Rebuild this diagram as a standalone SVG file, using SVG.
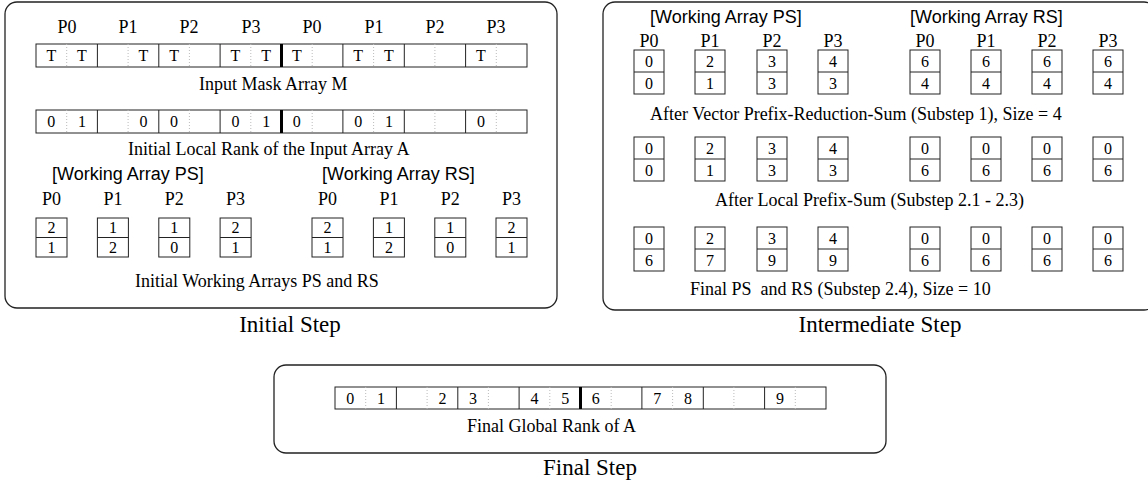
<svg xmlns="http://www.w3.org/2000/svg" width="1148" height="485" viewBox="0 0 1148 485">
<style>
.panel{fill:none;stroke:#222;stroke-width:1.3}
.cell{fill:#fff;stroke:#222;stroke-width:1}
.ln{stroke:#222;stroke-width:1}
.thick{stroke:#000;stroke-width:3}
.dot{stroke:#bbb;stroke-width:1;stroke-dasharray:1 2}
.lbl{font-family:"Liberation Serif",serif;font-size:18px;fill:#000}
.pl{font-family:"Liberation Serif",serif;font-size:18px;fill:#000;text-anchor:middle}
.val{font-family:"Liberation Serif",serif;font-size:16px;fill:#000;text-anchor:middle}
.sans{font-family:"Liberation Sans",sans-serif;font-size:18px;fill:#000}
.cap{font-family:"Liberation Serif",serif;font-size:23px;fill:#000}
</style>
<rect width="1148" height="485" fill="#fff"/>
<g id="connectors"/>

<g id="initial-step">
<rect class="panel" x="5" y="2" width="552" height="306" rx="12"/>
<g id="headers" class="pl">
<text x="67" y="33">P0</text><text x="128" y="33">P1</text><text x="189" y="33">P2</text><text x="251" y="33">P3</text>
<text x="312" y="33">P0</text><text x="374" y="33">P1</text><text x="435" y="33">P2</text><text x="496" y="33">P3</text>
</g>
<g id="mask-array">
<rect class="cell" x="36" y="44" width="491" height="23"/>
<path class="ln" d="M97.4 44V67M158.8 44V67M220.1 44V67M342.9 44V67M404.3 44V67M465.6 44V67"/>
<path class="dot" d="M66.7 44V67M128.1 44V67M189.4 44V67M250.8 44V67M312.2 44V67M373.6 44V67M434.9 44V67M496.3 44V67"/>
<line class="thick" x1="281.5" y1="44" x2="281.5" y2="67"/>
<g class="val">
<text x="51.3" y="61">T</text><text x="82" y="61">T</text><text x="143.4" y="61">T</text><text x="174.1" y="61">T</text>
<text x="235.5" y="61">T</text><text x="266.2" y="61">T</text><text x="296.8" y="61">T</text><text x="358.2" y="61">T</text>
<text x="388.9" y="61">T</text><text x="481" y="61">T</text>
</g>
<text class="lbl" x="199" y="90">Input Mask Array M</text>
</g>
<g id="local-rank-array">
<rect class="cell" x="36" y="110" width="491" height="23"/>
<path class="ln" d="M97.4 110V133M158.8 110V133M220.1 110V133M342.9 110V133M404.3 110V133M465.6 110V133"/>
<path class="dot" d="M66.7 110V133M128.1 110V133M189.4 110V133M250.8 110V133M312.2 110V133M373.6 110V133M434.9 110V133M496.3 110V133"/>
<line class="thick" x1="281.5" y1="110" x2="281.5" y2="133"/>
<g class="val">
<text x="51.3" y="127">0</text><text x="82" y="127">1</text><text x="143.4" y="127">0</text><text x="174.1" y="127">0</text>
<text x="235.5" y="127">0</text><text x="266.2" y="127">1</text><text x="296.8" y="127">0</text><text x="358.2" y="127">0</text>
<text x="388.9" y="127">1</text><text x="481" y="127">0</text>
</g>
<text class="lbl" x="128" y="155">Initial Local Rank of the Input Array A</text>
</g>
<g id="initial-ps">
<text class="sans" x="52" y="180">[Working Array PS]</text>
<g class="pl"><text x="51.5" y="205">P0</text><text x="112.9" y="205">P1</text><text x="174.3" y="205">P2</text><text x="235.6" y="205">P3</text></g>
<rect class="cell" x="36" y="218" width="31" height="39"/><rect class="cell" x="97.4" y="218" width="31" height="39"/>
<rect class="cell" x="158.8" y="218" width="31" height="39"/><rect class="cell" x="220.1" y="218" width="31" height="39"/>
<path class="ln" d="M36 237.5H67M97.4 237.5H128.4M158.8 237.5H189.8M220.1 237.5H251.1"/>
<g class="val">
<text x="51.5" y="233">2</text><text x="51.5" y="253">1</text>
<text x="112.9" y="233">1</text><text x="112.9" y="253">2</text>
<text x="174.3" y="233">1</text><text x="174.3" y="253">0</text>
<text x="235.6" y="233">2</text><text x="235.6" y="253">1</text>
</g>
</g>
<g id="initial-rs">
<text class="sans" x="322" y="180">[Working Array RS]</text>
<g class="pl"><text x="327.5" y="205">P0</text><text x="388.9" y="205">P1</text><text x="450.3" y="205">P2</text><text x="511.5" y="205">P3</text></g>
<rect class="cell" x="312" y="218" width="31" height="39"/><rect class="cell" x="373.4" y="218" width="31" height="39"/>
<rect class="cell" x="434.8" y="218" width="31" height="39"/><rect class="cell" x="496" y="218" width="31" height="39"/>
<path class="ln" d="M312 237.5H343M373.4 237.5H404.4M434.8 237.5H465.8M496 237.5H527"/>
<g class="val">
<text x="327.5" y="233">2</text><text x="327.5" y="253">1</text>
<text x="388.9" y="233">1</text><text x="388.9" y="253">2</text>
<text x="450.3" y="233">1</text><text x="450.3" y="253">0</text>
<text x="511.5" y="233">2</text><text x="511.5" y="253">1</text>
</g>
</g>
<text class="lbl" x="135" y="287">Initial Working Arrays PS and RS</text>
<text class="cap" x="290" y="332" text-anchor="middle">Initial Step</text>
</g>

<g id="intermediate-step">
<rect class="panel" x="603" y="2" width="553" height="308" rx="12"/>
<text class="sans" x="650" y="23">[Working Array PS]</text>
<text class="sans" x="910" y="23">[Working Array RS]</text>
<g class="pl">
<text x="649" y="47">P0</text><text x="710" y="47">P1</text><text x="772" y="47">P2</text><text x="833" y="47">P3</text>
<text x="925" y="47">P0</text><text x="986" y="47">P1</text><text x="1047" y="47">P2</text><text x="1108" y="47">P3</text>
</g>
<g id="substep1">
<rect class="cell" x="634" y="50" width="30" height="44"/><rect class="cell" x="695" y="50" width="30" height="44"/>
<rect class="cell" x="757" y="50" width="30" height="44"/><rect class="cell" x="818" y="50" width="30" height="44"/>
<rect class="cell" x="910" y="50" width="30" height="44"/><rect class="cell" x="971" y="50" width="30" height="44"/>
<rect class="cell" x="1032" y="50" width="30" height="44"/><rect class="cell" x="1093" y="50" width="30" height="44"/>
<path class="ln" d="M634 72H664M695 72H725M757 72H787M818 72H848M910 72H940M971 72H1001M1032 72H1062M1093 72H1123"/>
<g class="val">
<text x="649" y="67">0</text><text x="649" y="89">0</text>
<text x="710" y="67">2</text><text x="710" y="89">1</text>
<text x="772" y="67">3</text><text x="772" y="89">3</text>
<text x="833" y="67">4</text><text x="833" y="89">3</text>
<text x="925" y="67">6</text><text x="925" y="89">4</text>
<text x="986" y="67">6</text><text x="986" y="89">4</text>
<text x="1047" y="67">6</text><text x="1047" y="89">4</text>
<text x="1108" y="67">6</text><text x="1108" y="89">4</text>
</g>
<text class="lbl" x="650" y="120">After Vector Prefix-Reduction-Sum (Substep 1), Size = 4</text>
</g>
<g id="substep2">
<rect class="cell" x="634" y="137" width="30" height="44"/><rect class="cell" x="695" y="137" width="30" height="44"/>
<rect class="cell" x="757" y="137" width="30" height="44"/><rect class="cell" x="818" y="137" width="30" height="44"/>
<rect class="cell" x="910" y="137" width="30" height="44"/><rect class="cell" x="971" y="137" width="30" height="44"/>
<rect class="cell" x="1032" y="137" width="30" height="44"/><rect class="cell" x="1093" y="137" width="30" height="44"/>
<path class="ln" d="M634 159H664M695 159H725M757 159H787M818 159H848M910 159H940M971 159H1001M1032 159H1062M1093 159H1123"/>
<g class="val">
<text x="649" y="154">0</text><text x="649" y="176">0</text>
<text x="710" y="154">2</text><text x="710" y="176">1</text>
<text x="772" y="154">3</text><text x="772" y="176">3</text>
<text x="833" y="154">4</text><text x="833" y="176">3</text>
<text x="925" y="154">0</text><text x="925" y="176">6</text>
<text x="986" y="154">0</text><text x="986" y="176">6</text>
<text x="1047" y="154">0</text><text x="1047" y="176">6</text>
<text x="1108" y="154">0</text><text x="1108" y="176">6</text>
</g>
<text class="lbl" x="715" y="206">After Local Prefix-Sum (Substep 2.1 - 2.3)</text>
</g>
<g id="substep-final">
<rect class="cell" x="634" y="227" width="30" height="44"/><rect class="cell" x="695" y="227" width="30" height="44"/>
<rect class="cell" x="757" y="227" width="30" height="44"/><rect class="cell" x="818" y="227" width="30" height="44"/>
<rect class="cell" x="910" y="227" width="30" height="44"/><rect class="cell" x="971" y="227" width="30" height="44"/>
<rect class="cell" x="1032" y="227" width="30" height="44"/><rect class="cell" x="1093" y="227" width="30" height="44"/>
<path class="ln" d="M634 249H664M695 249H725M757 249H787M818 249H848M910 249H940M971 249H1001M1032 249H1062M1093 249H1123"/>
<g class="val">
<text x="649" y="244">0</text><text x="649" y="266">6</text>
<text x="710" y="244">2</text><text x="710" y="266">7</text>
<text x="772" y="244">3</text><text x="772" y="266">9</text>
<text x="833" y="244">4</text><text x="833" y="266">9</text>
<text x="925" y="244">0</text><text x="925" y="266">6</text>
<text x="986" y="244">0</text><text x="986" y="266">6</text>
<text x="1047" y="244">0</text><text x="1047" y="266">6</text>
<text x="1108" y="244">0</text><text x="1108" y="266">6</text>
</g>
<text class="lbl" x="690" y="295" style="white-space:pre">Final PS  and RS (Substep 2.4), Size = 10</text>
</g>
<text class="cap" x="880" y="332" text-anchor="middle">Intermediate Step</text>
</g>

<g id="final-step">
<rect class="panel" x="274" y="365" width="612" height="88" rx="12"/>
<g id="global-rank-array">
<rect class="cell" x="335" y="387" width="491" height="22"/>
<path class="ln" d="M396.4 387V409M457.8 387V409M519.1 387V409M641.9 387V409M703.3 387V409M764.6 387V409"/>
<path class="dot" d="M365.7 387V409M427.1 387V409M488.4 387V409M549.8 387V409M611.2 387V409M672.6 387V409M733.9 387V409M795.3 387V409"/>
<line class="thick" x1="580.5" y1="387" x2="580.5" y2="409"/>
<g class="val">
<text x="350.3" y="404">0</text><text x="381" y="404">1</text><text x="442.4" y="404">2</text><text x="473.1" y="404">3</text>
<text x="534.5" y="404">4</text><text x="565.2" y="404">5</text><text x="595.8" y="404">6</text><text x="657.2" y="404">7</text>
<text x="687.9" y="404">8</text><text x="780" y="404">9</text>
</g>
</g>
<text class="lbl" x="467" y="432">Final Global Rank of A</text>
<text class="cap" x="543" y="475">Final Step</text>
</g>
</svg>
